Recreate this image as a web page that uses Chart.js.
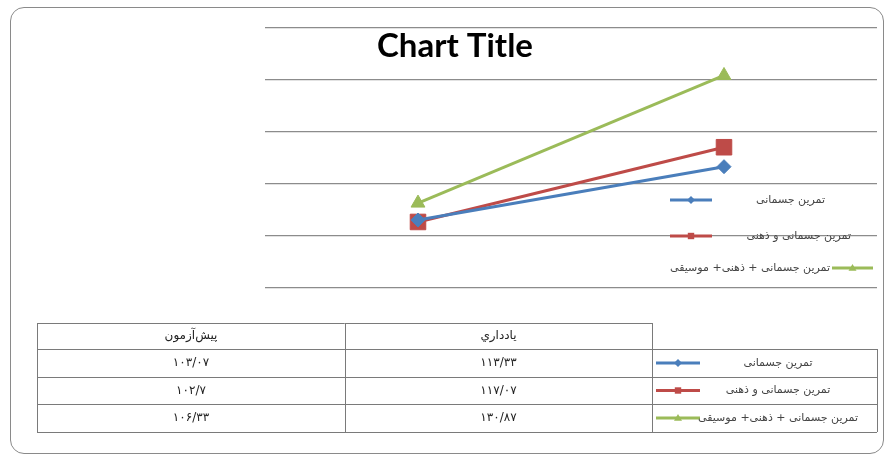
<!DOCTYPE html>
<html>
<head>
<meta charset="utf-8">
<script src="https://cdn.jsdelivr.net/npm/chart.js@4.4.1/dist/chart.umd.min.js"></script>
<style>
  html, body { margin: 0; padding: 0; background: #fff; }
  #wrap { position: relative; width: 889px; height: 459px; }
  #frame { position: absolute; left: 10px; top: 7px; width: 874px; height: 447px;
           border: 1.5px solid #8a8a8a; border-radius: 14px; box-sizing: border-box; }
  #c { position: absolute; left: 0; top: 0; }
</style>
</head>
<body>
<div id="wrap">
  <div id="frame"></div>
  <canvas id="c" width="889" height="459"></canvas>
</div>
<script>
// data
const categories = ["پیش‌آزمون", "یادداري"];
const seriesNames = ["تمرین جسمانی", "تمرین جسمانی و ذهنی", "تمرین جسمانی + ذهنی+ موسیقی"];
const physical = [103.07, 113.33];
const physicalMental = [102.7, 117.07];
const physicalMentalMusic = [106.33, 130.87];
const allSeries = [physical, physicalMental, physicalMentalMusic];

const colors = ["#4a7ebb", "#be4b48", "#9bbb59"];
const markers = ["rectRot", "rect", "triangle"];
const markerSizes = [7, 11, 8];
const persianFont = '"DejaVu Sans", "Noto Sans", sans-serif';

function toPersian(v) {
  const digits = "۰۱۲۳۴۵۶۷۸۹";
  return String(v).replace(".", "/").replace(/[0-9]/g, d => digits[+d]);
}

// small marker for legend samples
function drawMarker(ctx, style, x, y, r, color) {
  ctx.save();
  ctx.fillStyle = color;
  ctx.beginPath();
  if (style === "rectRot") {
    ctx.moveTo(x, y - r); ctx.lineTo(x + r, y); ctx.lineTo(x, y + r); ctx.lineTo(x - r, y);
  } else if (style === "rect") {
    ctx.rect(x - r * 0.8, y - r * 0.8, r * 1.6, r * 1.6);
  } else {
    ctx.moveTo(x, y - r); ctx.lineTo(x + r, y + r * 0.7); ctx.lineTo(x - r, y + r * 0.7);
  }
  ctx.closePath();
  ctx.fill();
  ctx.restore();
}

function drawSample(ctx, i, x1, x2, y) {
  ctx.save();
  ctx.strokeStyle = colors[i];
  ctx.lineWidth = 3;
  ctx.beginPath();
  ctx.moveTo(x1, y); ctx.lineTo(x2, y);
  ctx.stroke();
  ctx.restore();
  drawMarker(ctx, markers[i], (x1 + x2) / 2, y, 4, colors[i]);
}

// title, in-chart legend and the data table
const extras = {
  id: "extras",
  afterDraw(chart) {
    const ctx = chart.ctx;
    ctx.save();
    ctx.fillStyle = "#000";
    ctx.font = "bold 33px Lato, sans-serif";
    ctx.textAlign = "center";
    ctx.textBaseline = "middle";
    ctx.fillText("Chart Title", 455, 46);

    // legend inside plot
    const leg = [
      { y: 200, l1: 670, l2: 712, tr: 825 },
      { y: 236, l1: 670, l2: 712, tr: 851 },
      { y: 268, l1: 832, l2: 873, tr: 830 }
    ];
    ctx.font = "11px " + persianFont;
    ctx.fillStyle = "#444";
    ctx.direction = "rtl";
    ctx.textAlign = "right";
    leg.forEach((it, i) => {
      drawSample(ctx, i, it.l1, it.l2, it.y);
      ctx.fillText(seriesNames[i], it.tr, it.y);
    });

    // data table
    const xs = [37, 345, 652, 877];
    const ys = [323, 349, 377, 404, 432];
    ctx.strokeStyle = "#7a7a7a";
    ctx.lineWidth = 1;
    ctx.beginPath();
    ctx.moveTo(xs[0], ys[0] + 0.5); ctx.lineTo(xs[2], ys[0] + 0.5);
    for (let r = 1; r < ys.length; r++) {
      ctx.moveTo(xs[0], ys[r] + 0.5); ctx.lineTo(xs[3], ys[r] + 0.5);
    }
    for (let c = 0; c < 3; c++) {
      ctx.moveTo(xs[c] + 0.5, ys[0]); ctx.lineTo(xs[c] + 0.5, ys[4]);
    }
    ctx.moveTo(xs[3] + 0.5, ys[1]); ctx.lineTo(xs[3] + 0.5, ys[4]);
    ctx.stroke();

    ctx.textAlign = "center";
    ctx.fillStyle = "#222";
    ctx.font = "12px " + persianFont;
    categories.forEach((cat, c) => {
      const cx = (xs[c] + xs[c + 1]) / 2;
      ctx.fillText(cat, cx, (ys[0] + ys[1]) / 2);
      allSeries.forEach((s, i) => {
        ctx.fillText(toPersian(s[c]), cx, (ys[i + 1] + ys[i + 2]) / 2);
      });
    });
    ctx.font = "11px " + persianFont;
    ctx.fillStyle = "#444";
    seriesNames.forEach((name, i) => {
      const cy = (ys[i + 1] + ys[i + 2]) / 2;
      drawSample(ctx, i, 656, 700, cy);
      ctx.fillText(name, 778, cy);
    });
    ctx.restore();
  }
};

new Chart(document.getElementById("c"), {
  type: "line",
  data: {
    labels: categories,
    datasets: allSeries.map((s, i) => ({
      label: seriesNames[i],
      data: s,
      borderColor: colors[i],
      backgroundColor: colors[i],
      borderWidth: 3,
      pointStyle: markers[i],
      pointRadius: markerSizes[i],
      pointBorderWidth: 1,
      tension: 0
    }))
  },
  options: {
    responsive: false,
    animation: false,
    devicePixelRatio: 1,
    layout: { padding: { left: 265, right: 12, top: 28, bottom: 171 } },
    plugins: {
      legend: { display: false },
      title: { display: false },
      tooltip: { enabled: false }
    },
    scales: {
      x: { type: "category", offset: true, display: false },
      y: {
        min: 90, max: 140,
        ticks: { display: false, stepSize: 10 },
        grid: { color: "#8c8c8c", lineWidth: 1.2, drawTicks: false },
        border: { display: false },
        afterFit: s => { s.width = 0; }
      }
    }
  },
  plugins: [extras]
});
</script>
</body>
</html>
